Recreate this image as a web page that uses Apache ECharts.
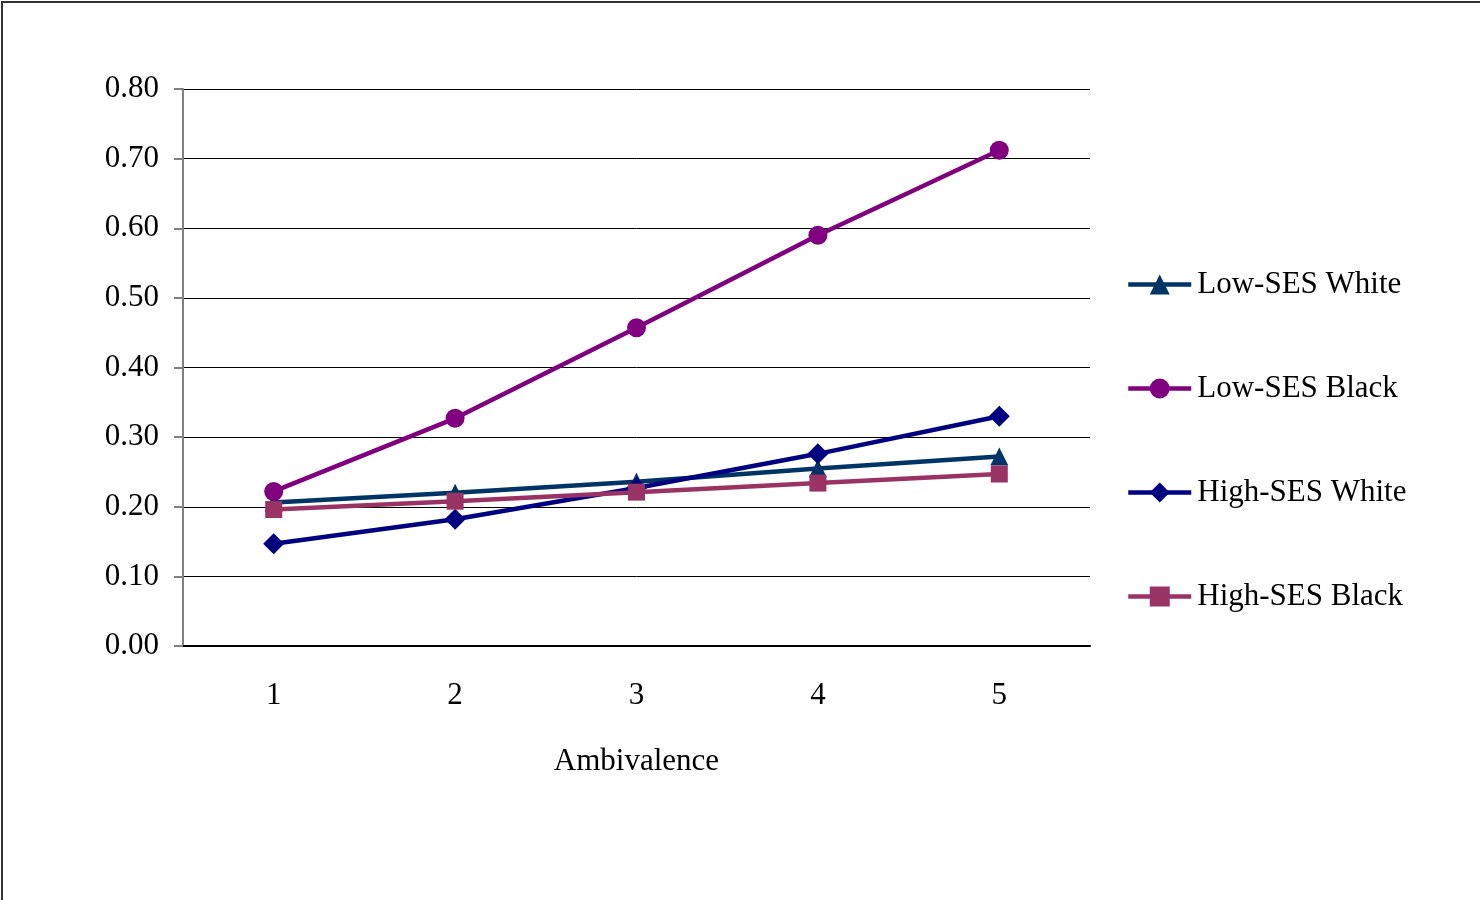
<!DOCTYPE html>
<html>
<head>
<meta charset="utf-8">
<script src="https://cdn.jsdelivr.net/npm/echarts@6/dist/echarts.min.js"></script>
<style>
  html, body { margin: 0; padding: 0; background: #fff; }
  #frame { position: absolute; left: 0; top: 0; width: 1480px; height: 900px; overflow: hidden; }
  #border { position: absolute; left: 1px; top: 1px; width: 1500px; height: 950px; border: 2px solid #333; box-sizing: border-box; }
  #chart { position: absolute; left: 0; top: 0; width: 1480px; height: 900px; }
</style>
</head>
<body>
<div id="frame">
  <div id="border"></div>
  <div id="chart"></div>
</div>
<script>
// Ambivalence levels on the x axis
const categories = ['1', '2', '3', '4', '5'];

// Predicted values per group
const lowSesWhite  = [0.206, 0.220, 0.236, 0.255, 0.272];
const lowSesBlack  = [0.222, 0.327, 0.457, 0.590, 0.712];
const highSesWhite = [0.147, 0.182, 0.227, 0.276, 0.330];
const highSesBlack = [0.196, 0.208, 0.221, 0.234, 0.247];

const seriesNames = ['Low-SES White', 'Low-SES Black', 'High-SES White', 'High-SES Black'];
const seriesData = [lowSesWhite, lowSesBlack, highSesWhite, highSesBlack];
const seriesColors = ['#003366', '#800080', '#000080', '#993366'];
const seriesSymbols = ['triangle', 'circle', 'diamond', 'rect'];
const seriesSymbolSizes = [18, 19, 21, 17];

const FONT = '"Liberation Serif", "Times New Roman", serif';
const FONT_SIZE = 31;

const chart = echarts.init(document.getElementById('chart'), null, { renderer: 'canvas' });

chart.setOption({
  animation: false,
  backgroundColor: 'transparent',
  textStyle: { fontFamily: FONT },
  grid: { left: 183, right: 390, top: 89, bottom: 254, containLabel: false },
  legend: {
    orient: 'vertical',
    left: 1126,
    top: 269,
    padding: 0,
    itemWidth: 63,
    itemHeight: 25,
    itemGap: 73,
    lineStyle: { width: 4.5 },
    textStyle: { fontFamily: FONT, fontSize: FONT_SIZE, color: '#000', padding: [0, 0, 0, 1] },
    data: seriesNames
  },
  xAxis: {
    type: 'category',
    data: categories,
    boundaryGap: true,
    name: 'Ambivalence',
    nameLocation: 'middle',
    nameGap: 100,
    nameTextStyle: { fontFamily: FONT, fontSize: FONT_SIZE, color: '#000' },
    axisLine: { show: true, lineStyle: { color: '#000', width: 2 } },
    axisTick: { show: false },
    axisLabel: { margin: 34, fontFamily: FONT, fontSize: FONT_SIZE, color: '#000' },
    splitLine: { show: false }
  },
  yAxis: {
    type: 'value',
    min: 0,
    max: 0.8,
    interval: 0.1,
    axisLine: { show: true, lineStyle: { color: '#808080', width: 2 } },
    axisTick: { show: true, inside: false, length: 9, lineStyle: { color: '#808080', width: 2 } },
    axisLabel: {
      margin: 24,
      fontFamily: FONT,
      fontSize: FONT_SIZE,
      color: '#000',
      padding: [3, 0, 0, 0],
      formatter: v => v.toFixed(2)
    },
    splitLine: { show: true, lineStyle: { color: '#000', width: 1 } }
  },
  series: seriesNames.map((name, i) => ({
    name,
    type: 'line',
    data: seriesData[i],
    symbol: seriesSymbols[i],
    symbolSize: seriesSymbolSizes[i],
    showAllSymbol: true,
    color: seriesColors[i],
    lineStyle: { color: seriesColors[i], width: 4.5 },
    itemStyle: { color: seriesColors[i], borderWidth: 0 },
    z: 2 + i
  }))
});
</script>
</body>
</html>
